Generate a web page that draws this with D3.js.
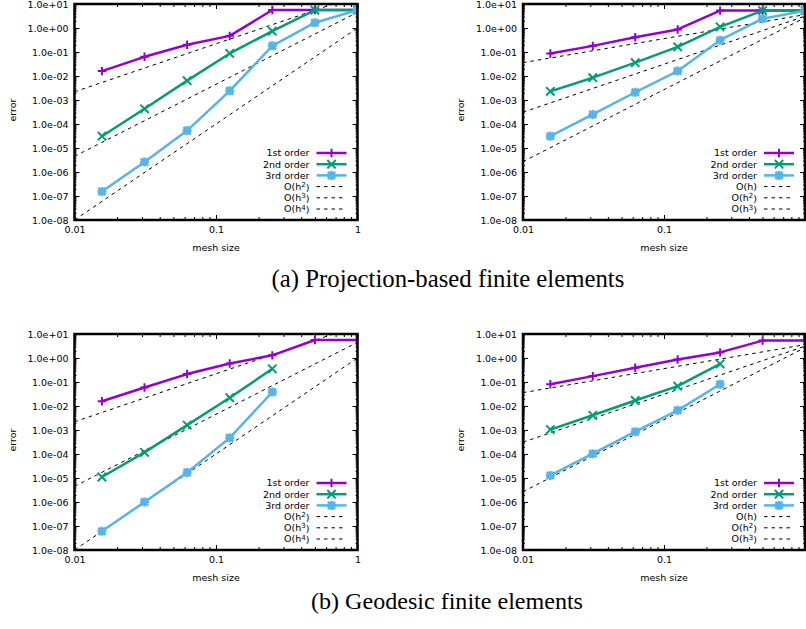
<!DOCTYPE html>
<html>
<head>
<meta charset="utf-8">
<script src="https://cdn.jsdelivr.net/npm/d3@7"></script>
<style>
  body { margin: 0; background: #fff; }
  svg { display: block; }
  text { font-family: "DejaVu Sans", sans-serif; fill: #000; }
</style>
</head>
<body>
<div id="chart"></div>
<script>
// mesh sizes h = 1/64 ... 1
const meshSizes = [0.015625, 0.03125, 0.0625, 0.125, 0.25, 0.5, 1];
const seriesNames = ['1st order', '2nd order', '3rd order'];
const yTicks = [1e1, 1e0, 1e-1, 1e-2, 1e-3, 1e-4, 1e-5, 1e-6, 1e-7, 1e-8];
const xTicks = [0.01, 0.1, 1];

// (a) projection-based, left
const projAFirst  = [0.016, 0.063, 0.20, 0.47, 5.6, 5.6, 5.6];
const projASecond = [3.1e-5, 4.3e-4, 6.4e-3, 0.087, 0.74, 5.6, 5.6];
const projAThird  = [1.55e-7, 2.6e-6, 5.3e-5, 2.4e-3, 0.18, 1.66, 5.6];
// (a) projection-based, right
const projBFirst  = [0.087, 0.18, 0.41, 0.87, 5.3, 5.3, 5.3];
const projBSecond = [2.3e-3, 8.5e-3, 0.036, 0.164, 1.12, 5.3, 5.3];
const projBThird  = [3.1e-5, 2.5e-4, 2.1e-3, 0.016, 0.31, 2.45, 5.3];
// (b) geodesic, left
const geoAFirst  = [0.0158, 0.059, 0.214, 0.59, 1.29, 5.6, 5.6];
const geoASecond = [1.1e-5, 1.17e-4, 1.6e-3, 0.022, 0.355];
const geoAThird  = [6.0e-8, 1.0e-6, 1.7e-5, 4.7e-4, 0.038];
// (b) geodesic, right
const geoBFirst  = [0.081, 0.176, 0.39, 0.87, 1.71, 5.3, 5.3];
const geoBSecond = [1.04e-3, 4.1e-3, 0.017, 0.067, 0.57];
const geoBThird  = [1.28e-5, 1.03e-4, 8.5e-4, 6.6e-3, 0.081];

// reference slopes O(h^k): value at h = 0.01 and at h = 1
const refPowersLeft = ['2', '3', '4'];
const refStartLeft  = [2.2e-3, 4.5e-6, 1e-8];
const refEndLeft    = [22, 4.5, 1];
const refPowersRight = ['', '2', '3'];
const refStartRight  = [0.036, 3.1e-4, 2.7e-6];
const refEndRight    = [3.6, 3.1, 2.7];

const colors = ['#9400d3', '#009e73', '#56b4e9'];
const markers = ['plus', 'cross', 'star'];

const W = 806, H = 629;
const svg = d3.select('#chart').append('svg')
  .attr('width', W).attr('height', H);

// right-hand panels run off the page, so their "1" label is not shown
const panels = [
  { left: 74.5, top: 4, w: 283, showLast: true, series: [projAFirst, projASecond, projAThird], refP: refPowersLeft, refS: refStartLeft, refE: refEndLeft },
  { left: 523, top: 4, w: 282, showLast: false, series: [projBFirst, projBSecond, projBThird], refP: refPowersRight, refS: refStartRight, refE: refEndRight },
  { left: 74.5, top: 334, w: 283, showLast: true, series: [geoAFirst, geoASecond, geoAThird], refP: refPowersLeft, refS: refStartLeft, refE: refEndLeft },
  { left: 523, top: 334, w: 282, showLast: false, series: [geoBFirst, geoBSecond, geoBThird], refP: refPowersRight, refS: refStartRight, refE: refEndRight }
];

function markerPath(type, s) {
  if (type === 'plus') return `M${-s},0H${s}M0,${-s}V${s}`;
  if (type === 'cross') return `M${-s},${-s}L${s},${s}M${-s},${s}L${s},${-s}`;
  return `M${-s},0H${s}M0,${-s}V${s}M${-s*0.8},${-s*0.8}L${s*0.8},${s*0.8}M${-s*0.8},${s*0.8}L${s*0.8},${-s*0.8}`;
}

function minorTicks(lo, hi) {
  let out = [];
  for (let d = lo; d < hi; d++) {
    for (let m = 2; m <= 9; m++) out.push(m * Math.pow(10, d));
  }
  return out;
}

panels.forEach((p, pi) => {
  let h = 216;
  let g = svg.append('g').attr('transform', `translate(${p.left},${p.top})`);

  let x = d3.scaleLog().domain([0.01, 1]).range([0, p.w]);
  let y = d3.scaleLog().domain([1e-8, 10]).range([h, 0]);

  let clipId = 'clip' + pi;
  g.append('clipPath').attr('id', clipId)
    .append('rect').attr('width', p.w).attr('height', h);

  // axes with inward ticks (gnuplot style)
  g.append('g').attr('transform', `translate(0,${h})`)
    .call(d3.axisBottom(x).tickValues(p.showLast ? xTicks : xTicks.slice(0, 2))
      .tickSize(-5).tickPadding(6.5)
      .tickFormat(d => d === 1 ? '1' : String(d)));
  g.append('g').attr('transform', `translate(0,${h})`)
    .call(d3.axisBottom(x).tickValues(minorTicks(-2, 0)).tickSize(-3).tickFormat(''));
  g.append('g')
    .call(d3.axisTop(x).tickValues(xTicks).tickSize(-5).tickFormat(''));
  g.append('g')
    .call(d3.axisTop(x).tickValues(minorTicks(-2, 0)).tickSize(-3).tickFormat(''));

  g.append('g')
    .call(d3.axisLeft(y).tickValues(yTicks).tickSize(-5).tickPadding(6)
      .tickFormat(d => d.toExponential(1).replace(/e([+-])(\d)$/, 'e$10$2')));
  g.append('g')
    .call(d3.axisLeft(y).tickValues(minorTicks(-8, 1)).tickSize(-2).tickFormat(''));
  g.append('g').attr('transform', `translate(${p.w},0)`)
    .call(d3.axisRight(y).tickValues(yTicks).tickSize(-5).tickFormat(''));
  g.append('g').attr('transform', `translate(${p.w},0)`)
    .call(d3.axisRight(y).tickValues(minorTicks(-8, 1)).tickSize(-2).tickFormat(''));

  g.selectAll('.domain').remove();
  g.selectAll('.tick line').attr('stroke', '#000').attr('stroke-width', 1);
  g.selectAll('.tick text').style('font-size', '9.5px').style('font-family', '"DejaVu Sans", sans-serif').attr('fill', '#000');

  // reference lines
  let refLine = d3.line().x(d => x(d[0])).y(d => y(d[1]));
  let plot = g.append('g').attr('clip-path', `url(#${clipId})`);
  p.refS.forEach((s, i) => {
    plot.append('path')
      .attr('d', refLine([[0.01, s], [1, p.refE[i]]]))
      .attr('fill', 'none').attr('stroke', '#000')
      .attr('stroke-width', 1).attr('stroke-dasharray', '3.5,4');
  });

  // data series
  let line = d3.line().x((d, i) => x(meshSizes[i])).y(d => y(d));
  p.series.forEach((vals, si) => {
    plot.append('path')
      .attr('d', line(vals))
      .attr('fill', 'none').attr('stroke', colors[si])
      .attr('stroke-width', 2.5).attr('stroke-linejoin', 'round');
    plot.selectAll(null).data(vals).enter().append('path')
      .attr('transform', (d, i) => `translate(${x(meshSizes[i])},${y(d)})`)
      .attr('d', markerPath(markers[si], si === 2 ? 4.5 : 4.2))
      .attr('fill', 'none').attr('stroke', colors[si])
      .attr('stroke-width', si === 2 ? 2.6 : 2);
  });

  // frame
  g.append('rect').attr('width', p.w).attr('height', h)
    .attr('fill', 'none').attr('stroke', '#000').attr('stroke-width', 2.5);

  // axis titles
  g.append('text')
    .attr('x', p.w / 2).attr('y', 247)
    .attr('text-anchor', 'middle').style('font-size', '9.5px')
    .text('mesh size');
  g.append('text')
    .attr('transform', `translate(${-62},${h / 2 - 2}) rotate(-90)`)
    .attr('text-anchor', 'middle').attr('dy', '0.35em').style('font-size', '9.5px')
    .text('error');

  // legend
  let lg = g.append('g').attr('transform', `translate(${p.w - 48},149)`);
  let rowH = 11.2;
  seriesNames.forEach((name, i) => {
    let r = lg.append('g').attr('transform', `translate(0,${i * rowH})`);
    r.append('text').attr('x', 0).attr('dy', '0.35em')
      .attr('text-anchor', 'end').style('font-size', '9.5px').text(name);
    r.append('line').attr('x1', 7).attr('x2', 37)
      .attr('stroke', colors[i]).attr('stroke-width', 2.5);
    r.append('path').attr('transform', 'translate(22,0)')
      .attr('d', markerPath(markers[i], i === 2 ? 4.5 : 4.2))
      .attr('fill', 'none').attr('stroke', colors[i])
      .attr('stroke-width', i === 2 ? 2.6 : 2);
  });
  p.refP.forEach((pw, i) => {
    let r = lg.append('g').attr('transform', `translate(0,${(i + 3) * rowH})`);
    let t = r.append('text').attr('x', 0).attr('dy', '0.35em')
      .attr('text-anchor', 'end').style('font-size', '9.5px');
    t.append('tspan').text('O(h');
    if (pw) t.append('tspan').attr('dy', '-0.4em').style('font-size', '7px').text(pw);
    t.append('tspan').attr('dy', pw ? '0.4em' : null).text(')');
    r.append('line').attr('x1', 7).attr('x2', 37)
      .attr('stroke', '#000').attr('stroke-width', 1).attr('stroke-dasharray', '3.5,4');
  });
});

// captions
const captions = [
  { text: '(a)  Projection-based finite elements', cx: 448, y: 287 },
  { text: '(b)  Geodesic finite elements', cx: 447, y: 609 }
];
const capWidths = [353, 272];
captions.forEach((c, i) => {
  let t = svg.append('text')
    .attr('x', c.cx).attr('y', c.y)
    .attr('text-anchor', 'middle')
    .style('font-family', '"Liberation Serif", "DejaVu Serif", serif')
    .style('font-size', '16px')
    .text(c.text);
  let len = t.node().getComputedTextLength();
  t.style('font-size', (16 * capWidths[i] / len).toFixed(2) + 'px');
});
</script>
</body>
</html>
